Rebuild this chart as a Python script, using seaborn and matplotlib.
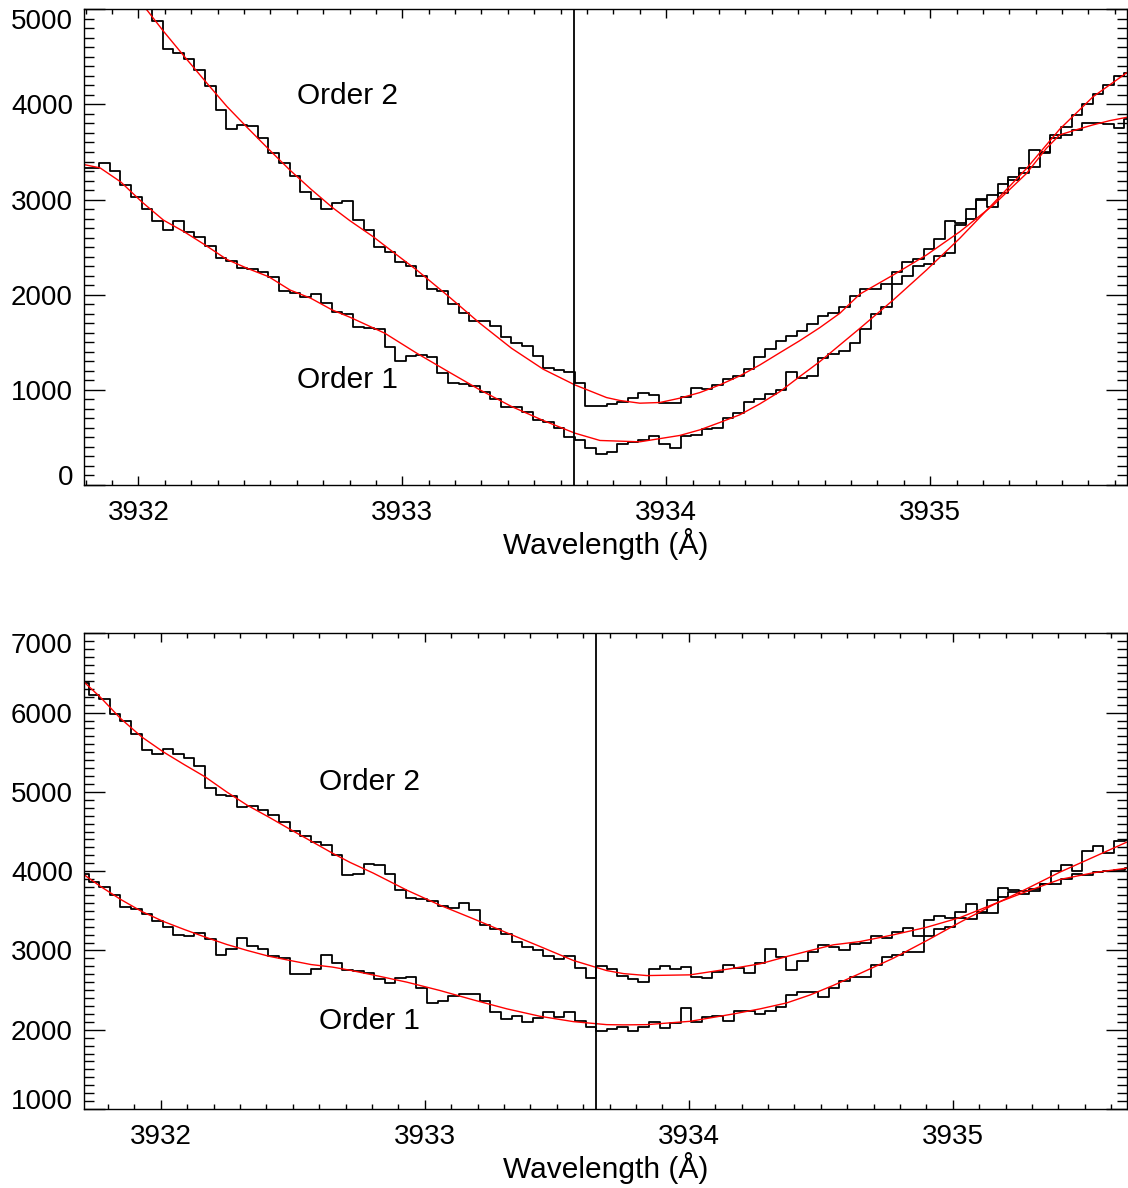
import numpy as np
import matplotlib
matplotlib.use("Agg")
import matplotlib.pyplot as plt
from matplotlib.ticker import MultipleLocator
import seaborn as sns

# --- pixel grid of the spectra (bin centres, Angstrom) ---
top_wave0 = 3931.792
bot_wave0 = 3931.707
bin_step = 0.04004
n_bins = 100

# --- top panel: observed counts, orders 1 and 2 ---
top_order1 = [3333, 3333, 3385, 3305, 3158, 3025, 2906, 2780, 2682, 2780, 2661,
              2609, 2514, 2382, 2354, 2284, 2273, 2242, 2186, 2042, 2015,
              1979, 2004, 1910, 1815, 1795, 1665, 1647, 1640, 1455, 1304,
              1357, 1364, 1343, 1182, 1077, 1063, 1045, 976, 906, 825,
              818, 766, 678, 657, 594, 503, 468, 388, 328, 342,
              430, 447, 475, 510, 430, 388, 520, 528, 591, 598,
              703, 762, 877, 906, 958, 1000, 1192, 1129, 1147, 1339,
              1374, 1409, 1496, 1635, 1794, 1874, 2112, 2196, 2304, 2319,
              2406, 2434, 2731, 2801, 2994, 2917, 3070, 3203, 3280, 3343,
              3500, 3651, 3763, 3893, 4004, 4113, 4200, 4295, 4330]
top_order2 = [5900, 5800, 5650, 5500, 5350, 5200, 5080, 4882, 4578, 4543, 4477,
              4365, 4197, 3938, 3746, 3781, 3777, 3651, 3494, 3382, 3245,
              3081, 3007, 2902, 2969, 2986, 2784, 2679, 2500, 2451, 2346,
              2304, 2199, 2057, 2042, 1899, 1805, 1727, 1727, 1672, 1559,
              1496, 1465, 1357, 1231, 1210, 1192, 1070, 832, 835, 850,
              871, 919, 972, 941, 867, 860, 930, 1017, 1010, 1052,
              1112, 1147, 1217, 1343, 1430, 1511, 1570, 1619, 1693, 1776,
              1805, 1874, 1986, 2057, 2057, 2109, 2242, 2343, 2371, 2483,
              2588, 2780, 2756, 2899, 3004, 3053, 3161, 3238, 3337, 3526,
              3494, 3676, 3676, 3735, 3805, 3805, 3791, 3752, 3851]

# --- top panel: fitted profiles (red) ---
top_fit1_wave = [3931.794, 3931.855, 3931.933, 3932.013, 3932.095, 3932.174, 3932.254,
                 3932.335, 3932.413, 3932.494, 3932.575, 3932.654, 3932.735, 3932.802,
                 3932.934, 3933.055, 3933.174, 3933.294, 3933.414, 3933.534, 3933.654,
                 3933.749, 3933.900, 3934.052, 3934.128, 3934.203, 3934.279, 3934.355,
                 3934.431, 3934.506, 3934.582, 3934.658, 3934.734, 3934.860, 3934.986,
                 3935.112, 3935.239, 3935.365, 3935.491, 3935.617, 3935.746]
top_fit1_flux = [3368, 3333, 3186, 2976, 2784, 2661, 2521,
                 2371, 2277, 2189, 2049, 1962, 1839, 1763,
                 1595, 1385, 1192, 1000, 825, 678, 545,
                 468, 454, 521, 580, 657, 738, 853,
                 982, 1140, 1297, 1472, 1647, 1944, 2259,
                 2592, 2959, 3326, 3740, 4080, 4335]
top_fit2_wave = [3931.794, 3931.900, 3932.032, 3932.095, 3932.174, 3932.254, 3932.335,
                 3932.413, 3932.494, 3932.575, 3932.654, 3932.735, 3932.802, 3932.890,
                 3932.972, 3933.055, 3933.174, 3933.294, 3933.414, 3933.534, 3933.654,
                 3933.774, 3933.825, 3933.900, 3933.976, 3934.052, 3934.128, 3934.203,
                 3934.279, 3934.355, 3934.431, 3934.506, 3934.582, 3934.658, 3934.734,
                 3934.860, 3934.986, 3935.112, 3935.239, 3935.365, 3935.441, 3935.491,
                 3935.555, 3935.617, 3935.681, 3935.746]
top_fit2_flux = [5450, 5220, 4994, 4770, 4505, 4242, 3980,
                 3756, 3529, 3308, 3109, 2917, 2777, 2609,
                 2434, 2259, 1986, 1700, 1437, 1217, 1052,
                 919, 888, 860, 867, 913, 972, 1052,
                 1147, 1262, 1391, 1517, 1654, 1805, 2007,
                 2207, 2417, 2661, 2941, 3274, 3540, 3680,
                 3735, 3785, 3830, 3865]

# --- bottom panel: observed counts, orders 1 and 2 ---
bot_order1 = [3967, 3861, 3798, 3693, 3546, 3525, 3462, 3365, 3293, 3197, 3176,
              3222, 3138, 2944, 3020, 3154, 3062, 3020, 2927, 2902, 2705,
              2705, 2768, 2948, 2843, 2750, 2738, 2712, 2641, 2591, 2649,
              2662, 2528, 2334, 2359, 2431, 2447, 2447, 2368, 2229, 2136,
              2169, 2102, 2144, 2229, 2165, 2220, 2115, 2030, 1989, 2010,
              2030, 1989, 2030, 2094, 2018, 2086, 2275, 2102, 2165, 2169,
              2115, 2241, 2233, 2199, 2233, 2283, 2439, 2481, 2473, 2418,
              2523, 2620, 2662, 2670, 2810, 2923, 2944, 2986, 2986, 3176,
              3273, 3293, 3407, 3399, 3475, 3475, 3672, 3735, 3715, 3744,
              3841, 4000, 4081, 4000, 4253, 4312, 4232, 4375, 4388]
bot_order2 = [6379, 6227, 6177, 5987, 5894, 5735, 5533, 5482, 5545, 5482, 5427,
              5326, 5048, 4965, 4943, 4808, 4817, 4766, 4712, 4619, 4505,
              4442, 4366, 4333, 4207, 3955, 3967, 4088, 4072, 3958, 3756,
              3664, 3643, 3622, 3558, 3533, 3596, 3513, 3323, 3273, 3210,
              3104, 3041, 3011, 2936, 2894, 2936, 2775, 2654, 2800, 2768,
              2683, 2641, 2599, 2768, 2801, 2768, 2788, 2662, 2654, 2725,
              2810, 2780, 2712, 2839, 3020, 2923, 2759, 2873, 2986, 3071,
              3041, 3011, 3083, 3100, 3188, 3159, 3230, 3281, 3188, 3386,
              3432, 3407, 3491, 3588, 3483, 3639, 3785, 3756, 3744, 3778,
              3832, 3832, 3895, 3967, 3955, 3988, 4000, 4017, 4038]

# --- bottom panel: fitted profiles (red) ---
bot_fit1_wave = [3931.709, 3931.770, 3931.848, 3931.928, 3932.010, 3932.089, 3932.169,
                 3932.250, 3932.328, 3932.409, 3932.490, 3932.569, 3932.650, 3932.717,
                 3932.805, 3932.932, 3933.058, 3933.184, 3933.311, 3933.437, 3933.563,
                 3933.689, 3933.752, 3933.841, 3934.005, 3934.169, 3934.270, 3934.371,
                 3934.460, 3934.548, 3934.649, 3934.775, 3934.902, 3935.028, 3935.154,
                 3935.280, 3935.406, 3935.533, 3935.659]
bot_fit1_flux = [3955, 3811, 3643, 3491, 3365, 3264, 3167,
                 3075, 2999, 2927, 2873, 2822, 2790, 2750,
                 2690, 2600, 2494, 2376, 2263, 2169, 2102,
                 2064, 2061, 2064, 2106, 2199, 2263, 2338,
                 2439, 2560, 2710, 2902, 3125, 3356, 3576,
                 3778, 3988, 4177, 4366]
bot_fit2_wave = [3931.709, 3931.770, 3931.848, 3931.928, 3932.010, 3932.089, 3932.169,
                 3932.250, 3932.328, 3932.409, 3932.490, 3932.569, 3932.650, 3932.717,
                 3932.805, 3932.932, 3933.058, 3933.184, 3933.311, 3933.437, 3933.563,
                 3933.689, 3933.752, 3933.841, 3934.005, 3934.169, 3934.270, 3934.371,
                 3934.460, 3934.548, 3934.649, 3934.775, 3934.902, 3935.028, 3935.154,
                 3935.280, 3935.406, 3935.533, 3935.659]
bot_fit2_flux = [6386, 6197, 5924, 5692, 5503, 5343, 5187,
                 4998, 4830, 4682, 4527, 4379, 4227, 4110,
                 3975, 3760, 3570, 3399, 3222, 3049, 2873,
                 2746, 2708, 2683, 2692, 2775, 2831, 2923,
                 2999, 3071, 3112, 3197, 3293, 3415, 3583,
                 3744, 3895, 3980, 4038]

line_center = 3933.65
label_wave = 3932.6

sns.set_style("ticks")
plt.rcParams["font.family"] = ["Liberation Sans", "DejaVu Sans"]
plt.rcParams["font.size"] = 20
plt.rcParams["axes.linewidth"] = 1.0
plt.rcParams["axes.edgecolor"] = "black"
plt.rcParams["text.color"] = "black"
plt.rcParams["axes.labelcolor"] = "black"
plt.rcParams["xtick.color"] = "black"
plt.rcParams["ytick.color"] = "black"

fig = plt.figure(figsize=(11.28, 11.88), dpi=100)
ax_top = fig.add_axes([84 / 1128, 1 - 485 / 1188, 1043 / 1128, 475.7 / 1188])
ax_bot = fig.add_axes([84 / 1128, 1 - 1109 / 1188, 1043 / 1128, 475.7 / 1188])

panels = [
    (ax_top, top_wave0, top_order1, top_order2, top_fit1_wave, top_fit1_flux,
     top_fit2_wave, top_fit2_flux, (3931.794, 3935.746), (0, 5000),
     4085, 1105),
    (ax_bot, bot_wave0, bot_order1, bot_order2, bot_fit1_wave, bot_fit1_flux,
     bot_fit2_wave, bot_fit2_flux, (3931.709, 3935.660), (1000, 7000),
     5120, 2115),
]

for (ax, w0, o1, o2, f1w, f1y, f2w, f2y, xlim, ylim, y_lab2, y_lab1) in panels:
    wave = w0 + bin_step * np.arange(n_bins)
    for flux in (o1, o2):
        sns.lineplot(x=wave, y=flux, ax=ax, color="black", lw=1.3,
                     drawstyle="steps-mid", estimator=None, sort=False)
    sns.lineplot(x=f1w, y=f1y, ax=ax, color="red", lw=1.0, estimator=None, sort=False)
    sns.lineplot(x=f2w, y=f2y, ax=ax, color="red", lw=1.0, estimator=None, sort=False)
    ax.axvline(line_center, color="black", lw=1.3)

    ax.text(label_wave, y_lab2, "Order 2", fontsize=21.5, color="black",
            va="center", ha="left")
    ax.text(label_wave, y_lab1, "Order 1", fontsize=21.5, color="black",
            va="center", ha="left")

    ax.set_xlim(*xlim)
    ax.set_ylim(*ylim)
    ax.set_xticks([3932, 3933, 3934, 3935])
    ax.set_xticklabels(["3932", "3933", "3934", "3935"])
    yt = list(range(ylim[0], ylim[1] + 1, 1000))
    ax.set_yticks(yt)
    ax.set_yticklabels([str(v) for v in yt])
    ax.xaxis.set_minor_locator(MultipleLocator(0.1))
    ax.yaxis.set_minor_locator(MultipleLocator(100))
    ax.tick_params(which="both", direction="in", top=True, right=True,
                   color="black", labelcolor="black", width=1.0, labelsize=20)
    ax.tick_params(axis="x", which="major", length=6.5, pad=11)
    ax.tick_params(axis="x", which="minor", length=3.6)
    ax.tick_params(axis="y", which="major", length=15, pad=8)
    ax.tick_params(axis="y", which="minor", length=7.2)
    ax.set_xlabel("Wavelength (Å)", fontsize=21.5, color="black", labelpad=1)
    ax.set_ylabel("")
    ylabels = ax.get_yticklabels()
    ylabels[0].set_verticalalignment("baseline")
    ylabels[-1].set_verticalalignment("top")
    for sp in ax.spines.values():
        sp.set_visible(True)
        sp.set_linewidth(1.0)
        sp.set_color("black")

fig.savefig("out.png", dpi=100, facecolor="white")
